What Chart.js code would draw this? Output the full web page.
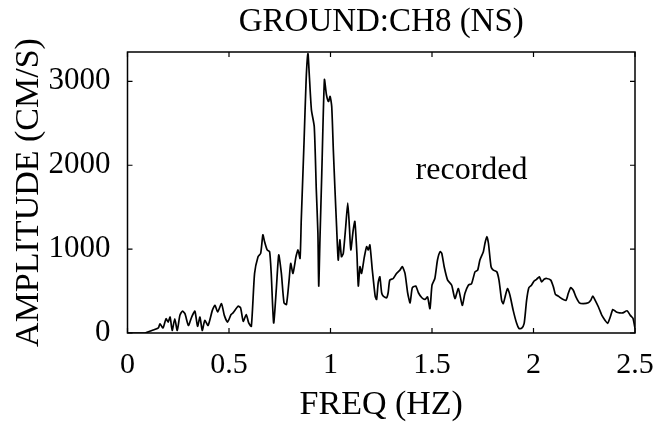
<!DOCTYPE html>
<html>
<head>
<meta charset="utf-8">
<script src="https://cdn.jsdelivr.net/npm/chart.js@4/dist/chart.umd.min.js"></script>
<style>
  html, body { margin: 0; padding: 0; background: #fff; }
  #wrap { width: 665px; height: 430px; }
</style>
</head>
<body>
<div id="wrap"><canvas id="grafico"></canvas></div>
<script>
// spectrum: frequency (Hz) and amplitude (cm/s)
const freq = [0, 0.05, 0.086, 0.12, 0.152, 0.16, 0.175, 0.19, 0.2, 0.21, 0.22, 0.233, 0.245, 0.258, 0.27, 0.283,
  0.3, 0.316, 0.332, 0.345, 0.357, 0.368, 0.381, 0.397, 0.418, 0.431, 0.444, 0.463, 0.477, 0.493, 0.51, 0.52,
  0.545, 0.557, 0.57, 0.585, 0.597, 0.61, 0.626, 0.643, 0.656, 0.667, 0.675, 0.688, 0.7, 0.708, 0.72, 0.733,
  0.745, 0.758, 0.771, 0.783, 0.796, 0.804, 0.815, 0.83, 0.84, 0.85, 0.856, 0.87, 0.88, 0.889, 0.895, 0.906,
  0.92, 0.93, 0.938, 0.942, 0.948, 0.957, 0.97, 0.98, 0.99, 0.998, 1.006, 1.014, 1.022, 1.03, 1.038, 1.046,
  1.054, 1.063, 1.075, 1.085, 1.093, 1.1, 1.112, 1.12, 1.13, 1.137, 1.145, 1.153, 1.167, 1.178, 1.186, 1.194,
  1.206, 1.22, 1.227, 1.235, 1.243, 1.252, 1.26, 1.276, 1.284, 1.292, 1.309, 1.325, 1.342, 1.354, 1.367, 1.38,
  1.392, 1.403, 1.42, 1.433, 1.45, 1.466, 1.478, 1.49, 1.5, 1.514, 1.527, 1.54, 1.548, 1.56, 1.577, 1.597,
  1.613, 1.63, 1.649, 1.662, 1.679, 1.695, 1.712, 1.725, 1.736, 1.753, 1.761, 1.77, 1.778, 1.791, 1.802, 1.819,
  1.83, 1.843, 1.851, 1.86, 1.872, 1.884, 1.9, 1.917, 1.928, 1.941, 1.954, 1.966, 1.977, 1.99, 2.003, 2.015,
  2.029, 2.04, 2.052, 2.065, 2.085, 2.098, 2.108, 2.122, 2.139, 2.16, 2.171, 2.183, 2.196, 2.209, 2.226, 2.245,
  2.27, 2.282, 2.292, 2.304, 2.32, 2.337, 2.353, 2.365, 2.378, 2.391, 2.408, 2.424, 2.44, 2.461, 2.477, 2.49, 2.5];
const amp = [0, 0, 0, 30, 60, 110, 60, 170, 130, 190, 30, 170, 30, 210, 260, 230,
  90, 190, 260, 80, 190, 30, 150, 90, 270, 330, 250, 350, 210, 130, 220, 240,
  320, 300, 140, 220, 120, 80, 710, 910, 950, 1170, 1090, 990, 970, 710, 120, 520,
  930, 710, 360, 340, 630, 830, 710, 910, 990, 890, 1350, 2300, 3020, 3330, 3100, 2660,
  2460, 1710, 1190, 560, 1110, 1900, 3020, 2840, 2760, 2820, 2700, 2180, 1710, 1270, 870, 1110,
  910, 950, 1270, 1550, 1270, 990, 1230, 1330, 950, 560, 790, 710, 910, 1030, 990, 1050,
  750, 440, 400, 600, 670, 480, 440, 420, 480, 630, 650, 710, 750, 790, 710, 480,
  360, 540, 560, 480, 420, 400, 430, 290, 570, 650, 870, 970, 950, 790, 630, 570,
  410, 530, 330, 470, 570, 590, 730, 750, 870, 970, 1070, 1150, 1070, 790, 750, 730,
  630, 390, 350, 430, 530, 450, 270, 115, 55, 55, 115, 390, 540, 570, 620, 640,
  670, 610, 640, 650, 630, 550, 460, 440, 410, 390, 470, 540, 510, 430, 360, 350,
  360, 390, 440, 390, 310, 210, 150, 115, 190, 280, 250, 240, 240, 265, 210, 175, 55];

const xTicks = [0, 0.5, 1, 1.5, 2, 2.5];
const yTicks = [0, 1000, 2000, 3000];

const serif = "'Liberation Serif', 'Times New Roman', serif";

// frame, inward tick marks on all four sides, and the "recorded" note
const moldura = {
  id: 'moldura',
  afterDraw(chart) {
    const {ctx, chartArea: a, scales} = chart;
    const x = scales.x, y = scales.y;
    ctx.save();
    ctx.strokeStyle = '#000';
    ctx.lineWidth = 1.5;
    ctx.strokeRect(a.left, a.top, a.right - a.left, a.bottom - a.top);
    ctx.lineWidth = 1.2;
    ctx.beginPath();
    x.ticks.forEach(t => {
      const px = x.getPixelForValue(t.value);
      ctx.moveTo(px, a.bottom); ctx.lineTo(px, a.bottom - 5);
      ctx.moveTo(px, a.top); ctx.lineTo(px, a.top + 5);
    });
    y.ticks.forEach(t => {
      const py = y.getPixelForValue(t.value);
      ctx.moveTo(a.left, py); ctx.lineTo(a.left + 5, py);
      ctx.moveTo(a.right, py); ctx.lineTo(a.right - 5, py);
    });
    ctx.stroke();
    ctx.fillStyle = '#000';
    ctx.font = '32px ' + serif;
    ctx.textAlign = 'center';
    ctx.textBaseline = 'alphabetic';
    ctx.fillText('recorded', x.getPixelForValue(1.695), y.getPixelForValue(1830));
    ctx.restore();
  }
};

const ctx = document.getElementById('grafico');

new Chart(ctx, {
  type: 'line',
  data: {
    datasets: [{
      data: freq.map((f, i) => ({x: f, y: amp[i]})),
      borderColor: '#000',
      borderWidth: 1.7,
      pointRadius: 0,
      tension: 0.2,
      fill: false
    }]
  },
  options: {
    responsive: true,
    maintainAspectRatio: false,
    animation: false,
    layout: {padding: 0},
    plugins: {
      legend: {display: false},
      tooltip: {enabled: false}
    },
    scales: {
      x: {
        type: 'linear',
        position: 'bottom',
        min: 0,
        max: 2.5,
        afterFit: s => { s.height = 97; },
        afterBuildTicks: s => { s.ticks = xTicks.map(v => ({value: v})); },
        grid: {display: false},
        border: {display: false},
        ticks: {
          color: '#000', padding: 6, maxRotation: 0, autoSkip: false,
          font: {family: serif, size: 30},
          callback: v => String(v)
        },
        title: {display: true, text: 'FREQ (HZ)', color: '#000', padding: {top: 0, bottom: 5}, font: {family: serif, size: 34}}
      },
      xTopo: {
        type: 'linear',
        position: 'top',
        min: 0,
        max: 2.5,
        afterFit: s => { s.height = 52; },
        grid: {display: false},
        border: {display: false},
        ticks: {display: false},
        title: {display: true, text: 'GROUND:CH8 (NS)', color: '#000', padding: {top: 3, bottom: 0}, font: {family: serif, size: 33}}
      },
      y: {
        type: 'linear',
        position: 'left',
        min: 0,
        max: 3350,
        afterFit: s => { s.width = 127.5; },
        afterBuildTicks: s => { s.ticks = yTicks.map(v => ({value: v})); },
        grid: {display: false},
        border: {display: false},
        ticks: {
          color: '#000', padding: 9,
          font: {family: serif, size: 31},
          callback: v => String(v)
        },
        title: {display: true, text: 'AMPLITUDE (CM/S)', color: '#000', padding: {top: 9, bottom: 0}, font: {family: serif, size: 34}}
      },
      yDir: {
        type: 'linear',
        position: 'right',
        min: 0,
        max: 3350,
        afterFit: s => { s.width = 30; },
        grid: {display: false},
        border: {display: false},
        ticks: {display: false}
      }
    }
  },
  plugins: [moldura]
});
</script>
</body>
</html>
